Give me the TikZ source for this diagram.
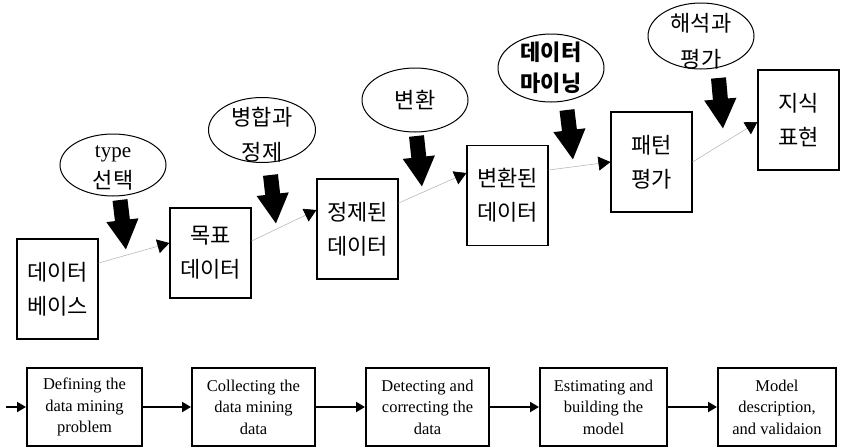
\documentclass[tikz,border=0pt]{standalone}
\usepackage{fontspec}
\setmainfont{Liberation Serif}
\newfontfamily\kr{Noto Sans CJK KR}
\usetikzlibrary{arrows.meta,shapes.geometric}
\begin{document}
\begin{tikzpicture}[
    x=1pt, y=-1pt,
    box/.style={rectangle, draw, line width=1.2pt, minimum width=81pt, minimum height=100pt, inner sep=0pt},
    oval/.style={ellipse, draw, line width=1pt, minimum width=106pt, minimum height=64pt, inner sep=0pt},
    kword/.style={align=center, inner sep=0pt, font=\kr\fontsize{22}{34}\selectfont},
    flow/.style={gray!55, line width=0.6pt, -{Triangle[length=12pt, width=14pt, color=black]}},
    push/.style={line width=15pt, -{Triangle[length=30pt, width=30pt]}},
    stage/.style={rectangle, draw, line width=2pt, minimum height=78pt, align=center, inner sep=0pt, font=\fontsize{16.5}{21.5}\selectfont},
    link/.style={line width=2pt, -{Triangle[length=9pt, width=10pt]}}
]
    \useasboundingbox (0,0) rectangle (849,447);

    \node[box, kword] (db) at (57.5,289) {데이터\\베이스};
    \node[box, kword, minimum height=90pt] (target) at (210.5,253) {목표\\데이터};
    \node[box, kword] (clean) at (357.5,229) {정제된\\데이터};
    \node[box, kword] (trans) at (507.5,195.5) {변환된\\데이터};
    \node[box, kword] (pattern) at (651.5,162) {패턴\\평가};
    \node[box, kword] (know) at (798.5,120) {지식\\표현};

    \node[oval, minimum height=62pt] (select) at (113,165) {};
    \node[oval, minimum width=107pt, minimum height=65pt] (merge) at (262,130) {};
    \node[oval] (convert) at (415,100) {};
    \node[oval, minimum height=68pt] (mining) at (551,68) {};
    \node[oval, minimum height=66pt] (interp) at (701,36) {};

    \node[kword, font=\fontsize{21}{31}\selectfont] (selectt) at (113,168) {type\\\kr\fontsize{22}{31}\selectfont 선택};
    \node[kword, font=\kr\fontsize{22}{35}\selectfont] (merget) at (262,134.5) {병합과\\정제};
    \node[kword] (convertt) at (415,100) {변환};
    \node[kword, font=\kr\bfseries\fontsize{22}{31}\selectfont] (miningt) at (551,67.5) {데이터\\마이닝};
    \node[kword, font=\kr\fontsize{22}{36}\selectfont] (interpt) at (701,41) {해석과\\평가};

    \draw[flow] ([yshift=26pt]db.east) -- ([yshift=10pt]target.west);
    \draw[flow] ([yshift=12pt]target.east) -- ([yshift=19pt]clean.west);
    \draw[flow] ([yshift=26pt]clean.east) -- ([yshift=22.5pt]trans.west);
    \draw[flow] ([yshift=25.5pt]trans.east) -- (pattern.west);
    \draw[flow] (pattern.east) -- ([yshift=-2pt]know.west);

    \coordinate (p1) at (120,200);  \coordinate (q1) at (126,250);
    \coordinate (p2) at (270.5,175); \coordinate (q2) at (276,224);
    \coordinate (p3) at (416.5,136); \coordinate (q3) at (422,187);
    \coordinate (p4) at (567,110);  \coordinate (q4) at (573,160);
    \coordinate (p5) at (718.5,78); \coordinate (q5) at (723,129);
    \foreach \i in {1,...,5}
        \draw[push] (p\i) -- (q\i);

    \node[stage, minimum width=115pt] (define) at (84.5,407) {Defining the\\data mining\\problem};
    \node[stage, minimum width=123pt] (collect) at (253.5,407) {Collecting the\\data mining\\data};
    \node[stage, minimum width=123pt] (detect) at (427.5,407) {Detecting and\\correcting the\\data};
    \node[stage, minimum width=127pt] (build) at (603.5,407) {Estimating and\\building the\\model};
    \node[stage, minimum width=118pt] (describe) at (777,407) {Model\\description,\\and validaion};
    \coordinate (start) at (6,407);

    \draw[link] (start) -- (define);
    \draw[link] (define) -- (collect);
    \draw[link] (collect) -- (detect);
    \draw[link] (detect) -- (build);
    \draw[link] (build) -- (describe);
\end{tikzpicture}
\end{document}
